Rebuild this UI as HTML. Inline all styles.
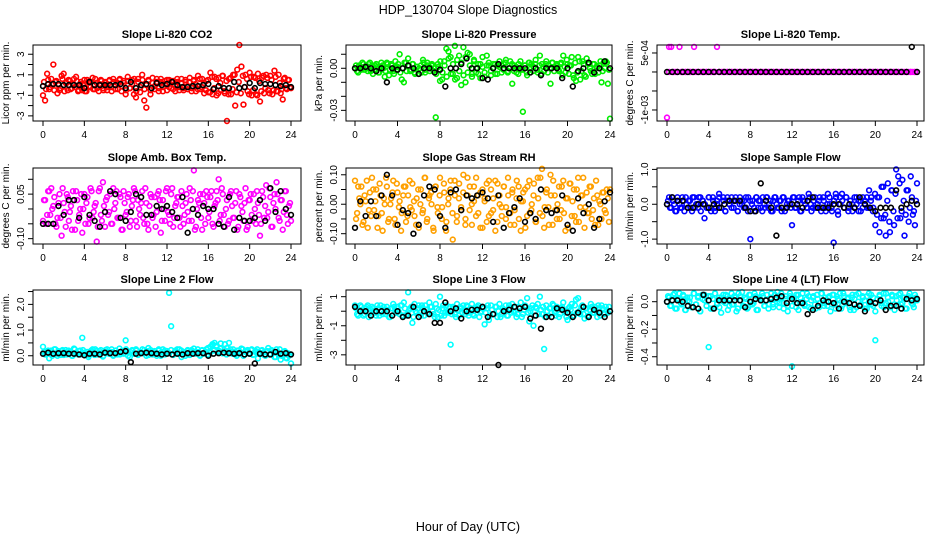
<!DOCTYPE html>
<html><head><meta charset="utf-8"><style>
body{margin:0;background:#fff;}
svg{display:block;font-family:"Liberation Sans",Arial,sans-serif;}
</style></head><body>
<svg id="chart" width="936" height="540" viewBox="0 0 936 540" xmlns="http://www.w3.org/2000/svg">
<text x="468" y="14" text-anchor="middle" font-size="12.5">HDP_130704  Slope Diagnostics</text>
<text x="468" y="531" text-anchor="middle" font-size="12.5">Hour of Day (UTC)</text>
</svg>
<script>
const xTicks=[0,4,8,12,16,20,24];
const xTickLabels=["0","4","8","12","16","20","24"];
// CO2 (ppm/min)
const co2Slope=[-1.0,-1.5,1.1,-0.4,0.6,2.0,0.3,-0.8,-0.5,0.9,1.1,0.2,-0.5,0.4,-0.3,0.6,0.8,-0.6,0.1,-0.5,0.5,-0.6,0.3,-0.2,0.7,-0.4,0.2,-0.6,0.5,-0.3,0.3,-0.5,0.4,-0.2,0.6,-0.4,0.2,0.5,-0.6,0.4,-0.9,0.8,-0.3,0.5,-0.9,-1.2,0.6,-0.7,1.0,-1.5,-2.2,0.5,-0.9,0.7,-0.4,0.3,-0.6,0.6,-0.2,0.4,-0.5,0.5,-0.3,0.4,-0.6,0.3,-0.2,0.6,-0.5,0.3,-0.4,0.7,-0.3,0.5,-0.6,0.9,-0.4,0.6,-0.8,0.4,-0.7,1.2,-0.9,0.8,-1.0,0.7,-0.5,0.9,-0.8,-3.5,0.6,-0.9,1.0,-2.0,1.5,3.9,1.8,-1.9,1.0,-0.6,1.2,-1.0,0.8,-0.9,1.1,-1.6,0.7,-0.8,1.0,-0.5,0.9,-0.9,1.4,-0.6,1.0,-0.8,-1.4,0.7,-0.4,0.5,-0.3];
const co2Slope2=[0.3,-0.4,0.5,-0.2,0.1,-0.5,0.4,0.0,-0.3,0.6,-0.6,0.2,0.5,-0.4,0.1,-0.2,0.4,-0.5,0.3,0.0,-0.6,0.5,-0.1,0.3,-0.4,0.6,-0.3,0.1,0.4,-0.5,0.2,-0.2,0.5,-0.6,0.3,0.0,-0.4,0.6,-0.1,0.2,-0.5,0.4,-0.3,0.1,0.6,-0.6,0.3,-0.2,0.5,-0.4,0.0,0.4,-0.5,0.2,-0.1,0.6,-0.3,0.3,-0.6,0.1,0.5,-0.2,0.4,-0.4,0.0,0.6,-0.5,0.2,-0.3,0.5,-0.1,0.3,-0.6,0.4,0.1,-0.4,0.6,-0.2,0.2,-0.5,0.5,-0.7,0.8,-0.3,0.6,-0.8,0.2,0.9,-0.6,0.4,-0.9,0.7,-0.4,1.0,-0.7,0.3,-0.8,0.9,-0.2,0.6,-0.9,0.8,-0.5,0.7,-1.0,0.4,-0.6,0.9,-0.3,0.7,-0.8,0.5,-0.5,0.8,-0.6,0.2,-0.4,0.6,-0.3,0.5,-0.2];
const co2Black=[-0.1,0.1,0.1,0.1,0.0,0.0,0.0,0.0,-0.3,0.3,0.0,0.0,0.0,0.0,0.0,0.1,-0.3,0.3,-0.3,0.0,0.1,-0.3,0.2,0.0,0.1,0.3,0.0,-0.2,-0.2,-0.1,-0.1,0.0,0.1,-0.4,-0.1,-0.3,-0.3,0.3,-0.3,-0.2,0.2,-0.3,0.2,0.1,0.1,0.0,-0.1,0.0,-0.2];
const co2Ticks=[3,2,1,0,-1,-2,-3];
const co2TickLabels=["3","","1","","-1","","-3"];
// Pressure (x0.001 kPa/min)
const presSlope=[0,-2,2,-1,3,1,-2,4,2,-1,3,-3,1,2,-6,4,-5,3,-2,5,1,10,-8,-10,4,7,-2,3,-3,1,-4,2,6,-3,4,1,2,-2,-35,3,-9,-8,5,14,12,8,-4,16,-7,9,-12,15,-10,11,10,-4,6,-3,3,-7,8,-6,9,2,-5,3,-4,2,5,-3,3,6,-2,5,-11,2,-3,3,-1,-31,2,-5,4,3,1,6,-3,9,3,-2,5,2,-11,4,1,3,-2,4,9,-3,3,2,8,-7,-9,8,-8,5,-5,7,3,-2,3,-4,1,2,-10,4,5,-11,-36];
const presSlope2=[2,-3,1,4,-1,0,3,-2,-4,2,1,-3,4,0,-2,3,-1,2,-4,1,3,-3,0,4,-2,2,-1,3,-4,1,0,-3,4,-1,2,-2,3,0,-4,1,5,-3,2,-6,7,-4,3,-8,6,-2,4,-5,8,-3,2,-6,5,0,-4,3,1,-3,2,4,-2,0,3,-4,1,2,-1,4,-3,0,3,-2,1,-4,5,-1,2,-3,4,0,-2,3,-1,2,-4,1,3,-3,0,4,-2,2,-1,3,-5,1,6,-4,2,-5,4,-3,5,-2,3,-6,4,0,-4,3,1,-3,5,-2,0,4,-1];
const presBlack=[0,0,1,0,-2,0,-10,0,-1,0,2,0,-4,0,0,-3,-1,-13,0,0,3,7,0,0,-7,-8,0,3,0,0,0,0,0,-3,0,-5,0,0,0,-7,0,-13,-2,0,4,-3,0,5,0];
const presTicks=[10,0,-10,-20,-30];
const presTickLabels=["","0.00","","","-0.03"];
// Li-820 Temp (x1e-4 C/min)
const tempSlope=[-12,6.6,6.6,0,0,0,6.6,0,0,0,0,0,0,6.6,0,0,0,0,0,0,0,0,0,0,6.6,0,0,0,0,0,0,0,0,0,0,0,0,0,0,0,0,0,0,0,0,0,0,0,0,0,0,0,0,0,0,0,0,0,0,0,0,0,0,0,0,0,0,0,0,0,0,0,0,0,0,0,0,0,0,0,0,0,0,0,0,0,0,0,0,0,0,0,0,0,0,0,0,0,0,0,0,0,0,0,0,0,0,0,0,0,0,0,0,0,0,0,0,0,0,0,0];
const tempSlope2=[0,0,0,0,0,0,0,0,0,0,0,0,0,0,0,0,0,0,0,0,0,0,0,0,0,0,0,0,0,0,0,0,0,0,0,0,0,0,0,0,0,0,0,0,0,0,0,0,0,0,0,0,0,0,0,0,0,0,0,0];
const tempBlack=[0,0,0,0,0,0,0,0,0,0,0,0,0,0,0,0,0,0,0,0,0,0,0,0,0,0,0,0,0,0,0,0,0,0,0,0,0,0,0,0,0,0,0,0,0,0,0,6.6,0];
const tempTicks=[5,0,-5,-10];
const tempTickLabels=["5e-04","","","-1e-03"];
// Amb box temp (x0.01 C/min)
const boxSlope=[-4,3,-2,6,7,1,-5,-3,5,-9,2,-6,4,-1,-7,3,6,-4,0,-8,5,2,-5,7,-3,1,-11,6,-2,9,-6,4,-1,-5,7,2,-3,5,-7,6,-2,4,-6,1,7,-4,3,-2,6,-5,2,-7,5,-3,4,-1,6,-8,3,-4,7,-2,5,-6,1,4,-3,6,-5,2,-1,7,-4,13,-6,3,5,-7,2,6,-3,4,-5,1,6,10,-2,5,-6,3,-4,6,-3,2,-7,5,1,-4,7,-6,3,-2,5,-5,2,-9,6,-3,8,-1,4,-6,5,9,-3,3,-7,6,-2,1,-4];
const boxSlope2=[3,-5,6,-2,0,4,-6,2,-3,7,-1,5,-4,1,6,-7,3,-2,5,0,-5,4,-3,6,-1,2,-6,7,-4,1,3,-2,5,-5,0,6,-3,4,-7,2,-1,5,-4,3,6,-6,0,2,-3,7,-5,1,4,-2,-6,5,3,-4,0,6,-1,-5,7,-3,2,4,-6,1,-2,5,-4,3,6,-7,0,2,-3,5,-5,4,-1,6,-6,2,3,-4,7,-2,0,-5,5,1,-3,6,-6,4,-1,2,-7,3,5,-4,0,6,-2,-5,4,1,-3,7,-6,2,0,5,-4,3,-1,6,-5,2];
const boxBlack=[-5,-5,-5,1,-2,3,3,-3,4,-2,-4,-6,-1,6,5,-3,-4,-1,5,4,-2,-2,1,0,1,-1,-3,4,-8,0,-2,1,0,0,-5,-6,4,-7,-3,-4,-4,-3,3,-4,7,-1,6,0,-2];
const boxTicks=[10,5,0,-5,-10];
const boxTickLabels=["","0.05","","","-0.10"];
// Gas stream RH (x0.01 %/min)
const rhSlope=[8,-3,2,6,-6,1,-8,4,9,-2,5,-4,3,-9,0,6,-5,2,8,-7,4,1,-3,6,-6,3,-1,7,-4,2,-8,5,-2,9,-5,3,0,-9,6,-3,9,-1,4,-6,2,8,-12,3,-4,7,-2,10,-5,3,6,-7,1,9,-3,4,-8,2,7,-4,5,-2,8,-6,3,-1,6,-5,9,-3,4,-7,2,6,-9,1,5,-4,8,-2,3,-6,9,-3,12,-8,4,-1,10,-7,3,-5,6,-2,8,-9,2,7,-4,5,-6,9,-1,3,-8,4,-3,6,-2,-7,3,1,-5,4,-3,2,5];
const rhSlope2=[-5,6,0,-7,3,8,-2,-4,5,1,-8,7,-3,2,9,-6,0,4,-5,7,-1,-9,3,6,-4,8,-2,1,-7,5,0,-3,9,-6,2,4,-8,6,-1,3,-5,7,-9,0,5,-3,8,-6,2,-1,4,-7,9,-2,0,6,-4,3,-8,5,1,-6,8,-3,2,-9,7,0,-4,6,-1,3,-7,5,-2,8,-5,1,4,-8,6,-3,0,7,-6,2,9,-4,-1,5,-7,3,8,-2,0,-5,6,-3,2,-8,7,1,-4,5,-6,3,9,-1,-3,6,-5,2,8,-7,0,4,-2,5,-6];
const rhBlack=[-8,1,-4,1,-4,3,10,3,-7,-2,-3,-10,-7,3,6,5,-4,-8,4,5,-2,3,2,3,4,2,-6,3,-8,-3,-1,2,-6,-3,-5,5,-2,-3,-2,3,-7,-9,2,-3,0,-8,-5,1,4];
const rhTicks=[10,5,0,-5,-10];
const rhTickLabels=["0.10","","0.00","","-0.10"];
// Sample flow (x0.1 ml/min/min)
const sampleSlope=[0,2,-1,1,-2,2,0,-1,1,2,-1,1,-2,2,0,-1,2,1,-4,-1,2,-1,2,-2,1,3,-1,2,-2,1,0,2,-1,1,-2,2,0,1,-1,2,-10,1,-2,2,1,-1,2,-1,2,0,-2,1,2,-1,1,-2,2,-1,1,0,-6,2,-1,1,-2,2,1,-1,3,0,-1,2,-1,1,-2,2,-1,0,2,-1,-11,3,-2,2,3,-1,2,-1,1,-2,2,0,1,-2,2,1,-1,4,2,-1,-6,2,-8,5,-4,-9,6,-8,4,-6,10,8,-4,7,-9,4,-5,8,-3,-6,6];
const sampleSlope2=[1,-1,2,0,-2,1,-1,2,-2,0,1,-1,2,-1,0,2,-2,1,0,-1,2,-2,1,-1,0,2,-1,1,-2,2,0,-1,1,2,-2,0,1,-1,2,-2,1,0,-1,2,-1,1,-2,0,2,-1,1,-2,2,0,-1,1,2,-2,0,1,-1,2,-1,0,2,-2,1,0,-1,2,-2,1,-1,0,2,-1,1,-2,3,0,-2,1,2,-3,0,1,-1,2,-2,1,0,-1,2,-2,1,-1,0,2,-1,1,-2,3,-3,2,-4,5,-3,1,-5,4,-2,3,-4,6,-2,1,-3,4,-1,2,-2,1];
const sampleBlack=[0,2,1,1,-1,-1,0,0,-1,0,-1,0,1,1,1,-1,-2,-2,6,1,-1,-9,-1,-1,0,0,-1,1,2,-1,-1,-1,0,0,-1,0,-1,2,0,-1,-2,-1,-1,-1,4,-1,0,1,0];
const sampleTicks=[10,5,0,-5,-10];
const sampleTickLabels=["1.0","","0.0","","-1.0"];
// Line 2 flow (x0.01)
const line2Slope=[35,5,15,-10,20,8,25,0,12,18,3,22,6,15,0,28,10,5,20,70,12,8,-5,15,25,3,18,10,22,-3,12,25,8,15,0,20,5,28,12,8,60,15,-5,20,8,25,3,15,10,22,0,30,12,5,18,8,25,0,15,20,10,245,115,5,20,12,25,-5,15,8,22,3,18,28,8,15,0,22,10,25,5,35,45,50,40,20,48,10,45,30,50,15,25,5,20,12,28,0,15,22,8,25,5,18,-10,12,22,3,15,30,8,20,-5,25,10,-15,5,18,-10,0,-30];
const line2Slope2=[15,5,20,10,0,25,8,18,3,22,12,5,20,15,0,25,10,18,5,22,8,15,2,20,12,25,5,18,10,0,22,15,8,25,3,20,12,5,18,10,25,0,15,22,8,20,5,12,25,10,18,3,22,15,8,0,20,12,25,5,18,10,22,3,15,25,8,20,12,0,18,5,22,15,10,25,3,20,8,15,30,12,40,20,35,15,28,10,22,5,18,25,8,15,0,20,12,25,5,18,10,22,3,15,25,8,20,12,0,18,5,22,15,-5,10,25,0,15,-8,10,5];
const line2Black=[8,12,8,10,10,8,8,5,2,8,8,5,12,10,10,15,18,-25,8,10,12,10,8,5,8,5,8,5,10,8,10,10,0,8,10,12,10,8,10,5,8,-30,8,5,5,15,8,10,5];
const line2Ticks=[250,200,150,100,50,0];
const line2TickLabels=["","2.0","","1.0","","0.0"];
// Line 3 flow (x0.1)
const line3Slope=[4,-2,1,3,-3,2,4,-1,3,0,-3,2,4,-2,1,3,-4,2,5,-1,3,-2,4,6,-3,13,2,-8,5,-1,4,-3,2,4,-1,6,3,-2,5,-4,10,2,-3,4,-1,-23,3,-2,5,-3,2,4,-2,3,-1,5,-3,2,4,-1,3,-9,2,-6,4,-2,3,-4,5,-2,1,4,-3,2,5,-1,-4,3,6,-2,4,9,-7,2,-10,3,5,10,-2,-26,4,-3,2,5,-1,3,-4,2,6,-1,-6,3,5,-3,8,9,-2,4,-5,2,-3,5,-1,3,-4,2,4,-2,3,-1,0];
const line3Slope2=[2,-3,4,0,-2,3,-4,1,2,-1,4,-3,0,3,-2,1,-4,2,3,-1,0,4,-3,2,-2,1,3,-4,0,2,-1,4,-3,1,-2,3,0,-4,2,1,-3,4,-1,0,3,-2,2,-4,1,3,-1,0,4,-3,2,-2,1,3,-4,0,2,-1,4,-3,1,-2,3,0,-4,2,1,-3,4,-1,0,3,-2,2,-4,1,3,-1,0,4,-3,2,-2,1,3,-4,0,2,-1,4,-3,1,-2,3,0,-4,2,1,-3,4,-1,0,3,-2,2,-4,1,3,-1,0,4,-3,2,-2,1,3];
const line3Black=[3,0,0,-3,0,0,0,-3,0,-4,-3,3,-4,0,-2,-8,-8,6,0,2,-5,0,1,1,3,-4,-2,-37,0,1,3,2,3,-5,-3,-12,-4,-4,2,1,-1,-4,-1,3,-4,1,-1,-4,0];
const line3Ticks=[10,0,-10,-20,-30];
const line3TickLabels=["1","","-1","","-3"];
// Line 4 flow (x0.01)
const line4Slope=[0,3,-3,5,-5,2,6,-2,4,-6,1,3,-4,6,-2,4,-7,2,5,-3,-33,4,-5,6,-2,3,-8,5,-1,4,-3,6,-2,3,-5,4,7,-3,2,-4,5,-2,6,-6,3,1,4,-3,5,-2,6,-4,2,7,-1,3,-5,4,-3,6,-47,3,-4,5,-1,6,-3,2,4,-5,3,-2,5,-4,6,-1,3,-3,4,-2,5,-5,2,6,-3,4,-1,3,-6,5,2,-4,6,-2,3,-5,4,-1,5,-3,-28,2,4,-3,6,-1,3,-4,5,-2,4,-3,6,-1,3,-5,4,2,-2,5,1];
const line4Slope2=[4,-3,1,6,-5,2,-1,5,-6,3,0,-4,6,-2,3,-7,5,1,-3,4,-5,2,6,-1,-4,3,0,5,-6,2,-2,4,-7,6,1,-3,3,-5,5,0,-1,4,-6,2,6,-3,1,-5,3,-2,5,0,-4,6,-1,2,-7,4,-3,1,5,-6,3,0,-2,6,-4,1,4,-5,2,-1,6,-3,0,3,-7,5,-2,4,1,-5,6,-1,2,-4,3,-6,5,0,-3,4,1,-5,6,-2,3,-7,2,5,-1,-4,6,0,-3,4,-6,1,5,-2,3,-5,2,6,-1,-4,3];
const line4Black=[0,1,1,0,-3,-4,-5,5,1,-5,1,1,1,1,1,-4,0,2,1,1,2,3,4,-1,2,-1,-1,-9,-6,-3,1,0,-1,-5,0,-1,-2,-3,-7,0,-1,1,-6,-3,-3,-5,2,1,2];
const line4Ticks=[0,-10,-20,-30,-40];
const line4TickLabels=["0.0","","-0.2","","-0.4"];

const NS="http://www.w3.org/2000/svg";
const svg=document.getElementById('chart');
function mk(tag,attrs,parent){const e=document.createElementNS(NS,tag);for(const k in attrs)e.setAttribute(k,attrs[k]);(parent||svg).appendChild(e);return e;}
const cols=[{l:33,r:301,x0:43,x24:291},{l:346,r:612,x0:355,x24:610},{l:657,r:924,x0:667,x24:917}];
const rows=[{t:45,b:121},{t:168,b:244},{t:290,b:365}];
const panels=[
 {name:'co2',title:'Slope Li-820 CO2',ylab:'Licor ppm per min.',color:'#ff0000',c:0,r:0,dom:[-3.5,3.9],v:co2Slope,v2:co2Slope2,k:co2Black,ticks:co2Ticks,labels:co2TickLabels},
 {name:'pressure',title:'Slope Li-820 Pressure',ylab:'kPa per min.',color:'#00ee00',c:1,r:0,dom:[-37.6,16.6],v:presSlope,v2:presSlope2,k:presBlack,ticks:presTicks,labels:presTickLabels},
 {name:'li820-temp',title:'Slope Li-820 Temp.',ylab:'degrees C per min.',color:'#ff00ff',c:2,r:0,dom:[-12.9,7.1],v:tempSlope,v2:tempSlope2,k:tempBlack,ticks:tempTicks,labels:tempTickLabels},
 {name:'amb-box-temp',title:'Slope Amb. Box Temp.',ylab:'degrees C per min.',color:'#ff00ff',c:0,r:1,dom:[-11.8,13.8],v:boxSlope,v2:boxSlope2,k:boxBlack,ticks:boxTicks,labels:boxTickLabels},
 {name:'gas-stream-rh',title:'Slope Gas Stream RH',ylab:'percent per min.',color:'#ffa000',c:1,r:1,dom:[-13.5,12.3],v:rhSlope,v2:rhSlope2,k:rhBlack,ticks:rhTicks,labels:rhTickLabels},
 {name:'sample-flow',title:'Slope Sample Flow',ylab:'ml/min per min.',color:'#0000ff',c:2,r:1,dom:[-11.4,10.4],v:sampleSlope,v2:sampleSlope2,k:sampleBlack,ticks:sampleTicks,labels:sampleTickLabels},
 {name:'line2-flow',title:'Slope Line 2 Flow',ylab:'ml/min per min.',color:'#00ffff',c:0,r:2,dom:[-36,256],v:line2Slope,v2:line2Slope2,k:line2Black,ticks:line2Ticks,labels:line2TickLabels},
 {name:'line3-flow',title:'Slope Line 3 Flow',ylab:'ml/min per min.',color:'#00ffff',c:1,r:2,dom:[-37,14.6],v:line3Slope,v2:line3Slope2,k:line3Black,ticks:line3Ticks,labels:line3TickLabels},
 {name:'line4-flow',title:'Slope Line 4 (LT) Flow',ylab:'ml/min per min.',color:'#00ffff',c:2,r:2,dom:[-46,8.5],v:line4Slope,v2:line4Slope2,k:line4Black,ticks:line4Ticks,labels:line4TickLabels}
];
panels.forEach(p=>{
 const C=cols[p.c],R=rows[p.r];
 const g=mk('g',{});
 
 
 const xs=h=>C.x0+(C.x24-C.x0)*h/24;
 const ys=v=>R.b-(v-p.dom[0])/(p.dom[1]-p.dom[0])*(R.b-R.t);
 const tt=mk('text',{x:(C.l+C.r)/2,y:R.t-7,'text-anchor':'middle','font-size':'11','font-weight':'bold'},g);
 tt.textContent=p.title;
 
 
 const sg=mk('g',{fill:'none',stroke:p.color,'stroke-width':'1.6'},g);
 
 
 const n2=p.v2.length;
 p.v2.forEach((v,i)=>{const c=mk('circle',{cx:xs((i+0.5)*24/n2),cy:ys(v),r:2.4},sg);
  
  });
 const n=p.v.length;
 p.v.forEach((v,i)=>{const c=mk('circle',{cx:xs(i*24/(n-1)),cy:ys(v),r:2.4},sg);
  
  });
 const kg=mk('g',{fill:'none',stroke:'#000','stroke-width':'1.6'},g);
 
 
 const m=p.k.length;
 p.k.forEach((v,i)=>{const c=mk('circle',{cx:xs(i*24/(m-1)),cy:ys(v),r:2.4},kg);
  
  });
 const box=mk('rect',{x:C.l,y:R.t,width:C.r-C.l,height:R.b-R.t,fill:'none',stroke:'#000','stroke-width':'1'},g);
 
 
 const xa=mk('g',{},g);
 
 
 xTicks.forEach((t,i)=>{const x=xs(t);
  mk('line',{x1:x,x2:x,y1:R.b,y2:R.b+5,stroke:'#000'},xa);
  const lb=mk('text',{x:x,y:R.b+17,'text-anchor':'middle','font-size':'10'},xa);
  lb.textContent=xTickLabels[i];
  
  });
 const ya=mk('g',{},g);
 
 
 p.ticks.forEach((t,i)=>{const y=ys(t);
  mk('line',{x1:C.l-5,x2:C.l,y1:y,y2:y,stroke:'#000'},ya);
  if(p.labels[i]){const lb=mk('text',{x:C.l-9,y:y,'text-anchor':'middle','font-size':'10',transform:`rotate(-90 ${C.l-9} ${y})`},ya);
   lb.textContent=p.labels[i];
   
   }});
 const yl=mk('text',{x:C.l-24,y:(R.t+R.b)/2,'text-anchor':'middle','font-size':'10',transform:`rotate(-90 ${C.l-24} ${(R.t+R.b)/2})`},g);
 yl.textContent=p.ylab;
 
 
});
</script>
</body></html>
